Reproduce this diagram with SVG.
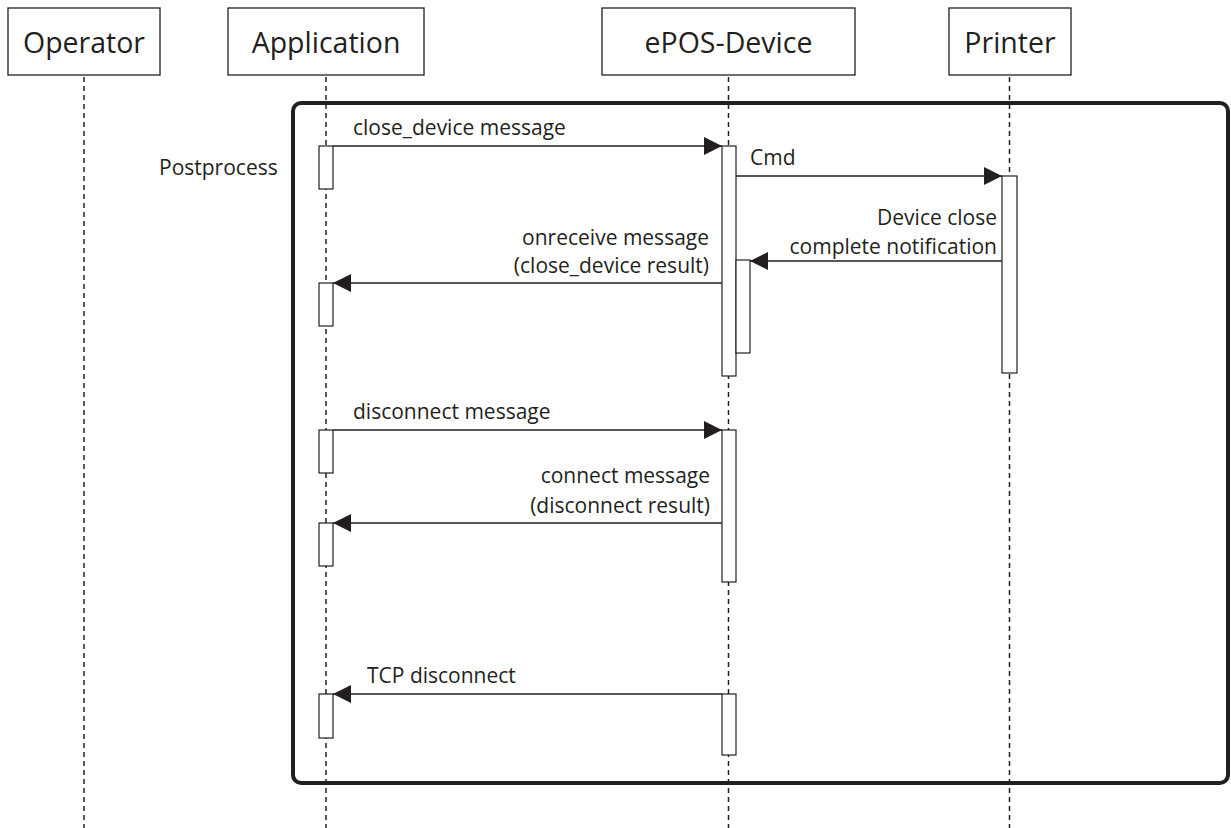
<svg xmlns="http://www.w3.org/2000/svg" width="1231" height="828" viewBox="0 0 1231 828">
<defs>
<style>
.box{fill:#fff;stroke:#231f20;stroke-width:1.3}
.head{font-family:"Open Sans","Liberation Sans",sans-serif;font-size:28.5px;fill:#231f20;text-anchor:middle}
.lbl{font-family:"Open Sans","Liberation Sans",sans-serif;font-size:21px;fill:#231f20}
.r{text-anchor:end}
.life{stroke:#231f20;stroke-width:1.5;stroke-dasharray:5 4;fill:none}
.act{fill:#fff;stroke:#231f20;stroke-width:1.2}
.msg{stroke:#231f20;stroke-width:1.5;fill:none;marker-end:url(#arr)}
.frame{fill:none;stroke:#231f20;stroke-width:4}
</style>
<marker id="arr" markerUnits="userSpaceOnUse" markerWidth="18" markerHeight="18" refX="18" refY="9" orient="auto">
<path d="M0,0 L18,9 L0,18 z" fill="#231f20"/>
</marker>
</defs>
<rect width="1231" height="828" fill="#fff"/>
<g id="lifelines">
<line class="life" x1="84" y1="77" x2="84" y2="828"/>
<line class="life" x1="326" y1="77" x2="326" y2="828"/>
<line class="life" x1="728.5" y1="77" x2="728.5" y2="828"/>
<line class="life" x1="1009.5" y1="77" x2="1009.5" y2="828"/>
</g>
<g id="frame">
<rect class="frame" x="293" y="103" width="935" height="680" rx="8"/>
</g>
<g id="operator"><rect class="box" x="8" y="8" width="152" height="67"/><text class="head" x="84" y="53">Operator</text></g>
<g id="application"><rect class="box" x="228" y="8" width="196" height="67"/><text class="head" x="326" y="53">Application</text></g>
<g id="epos-device"><rect class="box" x="602" y="8" width="253" height="67"/><text class="head" x="728.5" y="53">ePOS-Device</text></g>
<g id="printer"><rect class="box" x="949" y="8" width="122" height="67"/><text class="head" x="1010" y="53">Printer</text></g>
<g id="activations">
<rect class="act" x="319" y="146" width="14" height="43"/>
<rect class="act" x="722" y="146" width="14" height="230"/>
<rect class="act" x="736" y="260" width="14" height="93"/>
<rect class="act" x="1002" y="176" width="15" height="197"/>
<rect class="act" x="319" y="283" width="14" height="43"/>
<rect class="act" x="319" y="430" width="14" height="43"/>
<rect class="act" x="722" y="430" width="14" height="152"/>
<rect class="act" x="319" y="523" width="14" height="43"/>
<rect class="act" x="319" y="694" width="14" height="44"/>
<rect class="act" x="722" y="694" width="14" height="61"/>
</g>
<g id="connectors">
<line class="msg" x1="333" y1="146" x2="722" y2="146"/>
<line class="msg" x1="736" y1="176" x2="1002" y2="176"/>
<line class="msg" x1="1002" y1="261" x2="750" y2="261"/>
<line class="msg" x1="722" y1="283" x2="333" y2="283"/>
<line class="msg" x1="333" y1="430" x2="722" y2="430"/>
<line class="msg" x1="722" y1="523" x2="333" y2="523"/>
<line class="msg" x1="722" y1="694" x2="333" y2="694"/>
</g>
<g id="labels">
<text class="lbl" x="159" y="175">Postprocess</text>
<text class="lbl" x="353" y="135">close_device message</text>
<text class="lbl" x="750" y="165">Cmd</text>
<text class="lbl r" x="997" y="225">Device close</text>
<text class="lbl r" x="997" y="254">complete notification</text>
<text class="lbl r" x="709" y="245">onreceive message</text>
<text class="lbl r" x="709" y="273">(close_device result)</text>
<text class="lbl" x="353" y="419">disconnect message</text>
<text class="lbl r" x="710" y="483">connect message</text>
<text class="lbl r" x="710" y="513">(disconnect result)</text>
<text class="lbl" x="367" y="683">TCP disconnect</text>
</g>
</svg>
